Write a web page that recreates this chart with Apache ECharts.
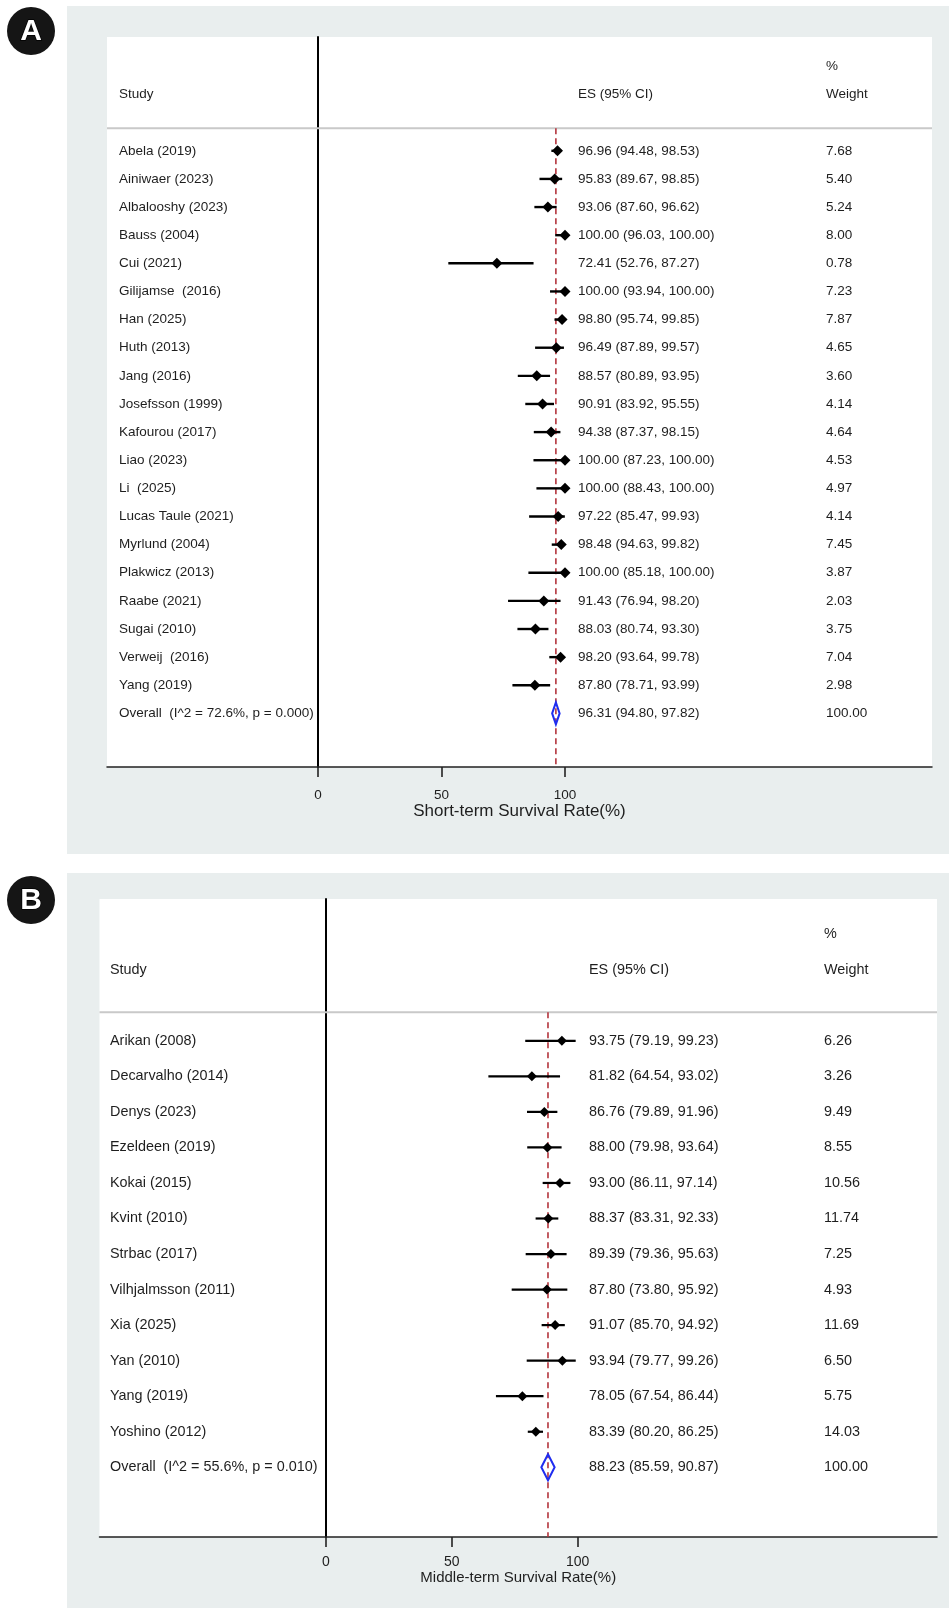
<!DOCTYPE html>
<html>
<head>
<meta charset="utf-8">
<script src="https://cdn.jsdelivr.net/npm/echarts@6/dist/echarts.min.js"></script>
<style>
  html, body { margin: 0; padding: 0; background: #fff; }
  #chart { width: 949px; height: 1608px; }
</style>
</head>
<body>
<div id="chart"></div>
<script>
// ---- Panel A: short-term survival ----
const studiesA = [
  'Abela (2019)', 'Ainiwaer (2023)', 'Albalooshy (2023)', 'Bauss (2004)', 'Cui (2021)',
  'Gilijamse  (2016)', 'Han (2025)', 'Huth (2013)', 'Jang (2016)', 'Josefsson (1999)',
  'Kafourou (2017)', 'Liao (2023)', 'Li  (2025)', 'Lucas Taule (2021)', 'Myrlund (2004)',
  'Plakwicz (2013)', 'Raabe (2021)', 'Sugai (2010)', 'Verweij  (2016)', 'Yang (2019)'
];
const esA     = [96.96, 95.83, 93.06, 100.00, 72.41, 100.00, 98.80, 96.49, 88.57, 90.91, 94.38, 100.00, 100.00, 97.22, 98.48, 100.00, 91.43, 88.03, 98.20, 87.80];
const lowerA  = [94.48, 89.67, 87.60, 96.03, 52.76, 93.94, 95.74, 87.89, 80.89, 83.92, 87.37, 87.23, 88.43, 85.47, 94.63, 85.18, 76.94, 80.74, 93.64, 78.71];
const upperA  = [98.53, 98.85, 96.62, 100.00, 87.27, 100.00, 99.85, 99.57, 93.95, 95.55, 98.15, 100.00, 100.00, 99.93, 99.82, 100.00, 98.20, 93.30, 99.78, 93.99];
const weightA = [7.68, 5.40, 5.24, 8.00, 0.78, 7.23, 7.87, 4.65, 3.60, 4.14, 4.64, 4.53, 4.97, 4.14, 7.45, 3.87, 2.03, 3.75, 7.04, 2.98];
const overallLabelA = 'Overall  (I^2 = 72.6%, p = 0.000)';
const overallA = [96.31, 94.80, 97.82, 100.00];   // ES, lower, upper, weight

// ---- Panel B: middle-term survival ----
const studiesB = [
  'Arikan (2008)', 'Decarvalho (2014)', 'Denys (2023)', 'Ezeldeen (2019)', 'Kokai (2015)', 'Kvint (2010)',
  'Strbac (2017)', 'Vilhjalmsson (2011)', 'Xia (2025)', 'Yan (2010)', 'Yang (2019)', 'Yoshino (2012)'
];
const esB     = [93.75, 81.82, 86.76, 88.00, 93.00, 88.37, 89.39, 87.80, 91.07, 93.94, 78.05, 83.39];
const lowerB  = [79.19, 64.54, 79.89, 79.98, 86.11, 83.31, 79.36, 73.80, 85.70, 79.77, 67.54, 80.20];
const upperB  = [99.23, 93.02, 91.96, 93.64, 97.14, 92.33, 95.63, 95.92, 94.92, 99.26, 86.44, 86.25];
const weightB = [6.26, 3.26, 9.49, 8.55, 10.56, 11.74, 7.25, 4.93, 11.69, 6.50, 5.75, 14.03];
const overallLabelB = 'Overall  (I^2 = 55.6%, p = 0.010)';
const overallB = [88.23, 85.59, 90.87, 100.00];

const xTicks = [0, 50, 100];
const FONT = '"Liberation Sans", Arial, Helvetica, sans-serif';
const TEXT = '#1e1e1e';

// Layout of each panel (pixels)
const panels = [
  {
    badge: 'A', badgeY: 31,
    bg: { x: 67, y: 6, w: 882, h: 848 },
    grid: { left: 107, top: 37, right: 932, bottom: 767 },
    zeroPx: 318, pxPerUnit: 2.47, row0: 150.8, rowStep: 28.13,
    colStudy: 12, colES: 471, colWeight: 719, fontSize: 13.5,
    marker: 11, whisker: 2.4, overallH: 22, tickFont: 13.5, labelMargin: 21,
    axisName: 'Short-term Survival Rate(%)', nameSize: 17, nameGap: 35,
    studies: studiesA, es: esA, lower: lowerA, upper: upperA, weight: weightA,
    overallLabel: overallLabelA, overall: overallA
  },
  {
    badge: 'B', badgeY: 900,
    bg: { x: 67, y: 873, w: 882, h: 735 },
    grid: { left: 99.5, top: 899, right: 937, bottom: 1537 },
    zeroPx: 326, pxPerUnit: 2.516, row0: 1040.8, rowStep: 35.54,
    colStudy: 10.5, colES: 489.5, colWeight: 724.5, fontSize: 14.4,
    marker: 10, whisker: 2.2, overallH: 26, tickFont: 14, labelMargin: 18,
    axisName: 'Middle-term Survival Rate(%)', nameSize: 15, nameGap: 28,
    studies: studiesB, es: esB, lower: lowerB, upper: upperB, weight: weightB,
    overallLabel: overallLabelB, overall: overallB
  }
];

const grids = [], xAxes = [], yAxes = [], series = [], graphics = [];

panels.forEach((p, k) => {
  const g = p.grid;
  // axis extents chosen so that 0 and 100 land on the panel's tick positions
  const xMin = (g.left - p.zeroPx) / p.pxPerUnit;
  const xMax = (g.right - p.zeroPx) / p.pxPerUnit;
  const yMin = (g.top - p.row0) / p.rowStep;
  const yMax = (g.bottom - p.row0) / p.rowStep;
  const rowY = r => p.row0 + r * p.rowStep;
  const sepRow = -0.8;   // header separator, just above the first study row

  // panel background, white plotting region, badge
  graphics.push(
    { type: 'rect', z: -10, shape: { x: p.bg.x, y: p.bg.y, width: p.bg.w, height: p.bg.h }, style: { fill: '#e9eeee' } },
    { type: 'rect', z: -9, shape: { x: g.left, y: g.top, width: g.right - g.left, height: g.bottom - g.top }, style: { fill: '#ffffff' } },
    { type: 'circle', z: 5, shape: { cx: 31, cy: p.badgeY, r: 24 }, style: { fill: '#151515' } },
    { type: 'text', z: 6, style: { x: 31, y: p.badgeY + 1, text: p.badge, fill: '#ffffff', stroke: '#000', lineWidth: 1.5,
      font: 'bold 30px ' + FONT, textAlign: 'center', textVerticalAlign: 'middle' } },
    { type: 'line', z: 1, shape: { x1: g.left, y1: rowY(sepRow), x2: g.right, y2: rowY(sepRow) },
      style: { stroke: '#c9c9c9', lineWidth: 2 } }
  );
  const hdr = (x, r, s) => ({ type: 'text', z: 4, style: { x, y: rowY(r), text: s, fill: TEXT,
    font: p.fontSize + 'px ' + FONT, textAlign: 'left', textVerticalAlign: 'middle' } });
  graphics.push(
    hdr(g.left + p.colWeight, -3, '%'),
    hdr(g.left + p.colStudy, -2, 'Study'),
    hdr(g.left + p.colES, -2, 'ES (95% CI)'),
    hdr(g.left + p.colWeight, -2, 'Weight')
  );

  grids.push({ left: g.left, top: g.top, width: g.right - g.left, height: g.bottom - g.top, containLabel: false });

  xAxes.push({
    gridIndex: k, type: 'value', min: xMin, max: xMax,
    name: p.axisName, nameLocation: 'middle', nameGap: p.nameGap,
    nameTextStyle: { color: TEXT, fontSize: p.nameSize, fontFamily: FONT },
    axisLine: { onZero: false, lineStyle: { color: '#222', width: 1.5 } },
    axisTick: { show: true, customValues: xTicks, length: 10, lineStyle: { color: '#222', width: 1.6 } },
    axisLabel: { customValues: xTicks, margin: p.labelMargin, color: TEXT, fontSize: p.tickFont, fontFamily: FONT },
    splitLine: { show: false }
  });
  yAxes.push({
    gridIndex: k, type: 'value', inverse: true, min: yMin, max: yMax,
    axisLine: { show: true, onZero: true, lineStyle: { color: '#000', width: 2 } },
    axisTick: { show: false }, axisLabel: { show: false }, splitLine: { show: false }
  });

  const labels = p.studies.concat([p.overallLabel]);
  const rows = p.studies.map((s, i) => [i, p.es[i], p.lower[i], p.upper[i], p.weight[i]]);
  rows.push([p.studies.length, p.overall[0], p.overall[1], p.overall[2], p.overall[3]]);
  const overallIdx = p.studies.length;

  // reference line at the pooled estimate
  series.push({
    type: 'line', xAxisIndex: k, yAxisIndex: k, z: 2, silent: true, symbol: 'none',
    data: [[p.overall[0], sepRow], [p.overall[0], yMax]],
    lineStyle: { color: '#b3343c', width: 1.6, type: [6, 4] }
  });

  // one row per study: CI whisker, point estimate, and the text columns
  series.push({
    type: 'custom', xAxisIndex: k, yAxisIndex: k, z: 3, silent: true,
    data: rows,
    encode: { x: [1, 2, 3], y: 0 },
    renderItem: (params, api) => {
      const i = api.value(0);
      const es = api.value(1), lo = api.value(2), hi = api.value(3), w = api.value(4);
      const cs = params.coordSys;
      const pE = api.coord([es, i]), pL = api.coord([lo, i]), pH = api.coord([hi, i]);
      const y = pE[1];
      const kids = [];
      if (i === overallIdx) {
        const h = p.overallH / 2;
        kids.push({ type: 'polygon', shape: { points: [[pL[0], y], [pE[0], y - h], [pH[0], y], [pE[0], y + h]] },
          style: { fill: 'none', stroke: '#1f2df0', lineWidth: 2 } });
      } else {
        const m = p.marker / 2;
        kids.push({ type: 'line', shape: { x1: pL[0], y1: y, x2: pH[0], y2: y }, style: { stroke: '#000', lineWidth: p.whisker } });
        kids.push({ type: 'polygon', shape: { points: [[pE[0] - m, y], [pE[0], y - m], [pE[0] + m, y], [pE[0], y + m]] },
          style: { fill: '#000' } });
      }
      const txt = (x, s) => ({ type: 'text', style: { x, y, text: s, fill: TEXT,
        font: p.fontSize + 'px ' + FONT, textAlign: 'left', textVerticalAlign: 'middle' } });
      kids.push(txt(cs.x + p.colStudy, labels[i]));
      kids.push(txt(cs.x + p.colES, es.toFixed(2) + ' (' + lo.toFixed(2) + ', ' + hi.toFixed(2) + ')'));
      kids.push(txt(cs.x + p.colWeight, w.toFixed(2)));
      return { type: 'group', children: kids };
    }
  });
});

const chart = echarts.init(document.getElementById('chart'), null, { renderer: 'canvas' });
chart.setOption({
  animation: false,
  backgroundColor: '#ffffff',
  grid: grids,
  xAxis: xAxes,
  yAxis: yAxes,
  series: series,
  graphic: { elements: graphics }
});
</script>
</body>
</html>
